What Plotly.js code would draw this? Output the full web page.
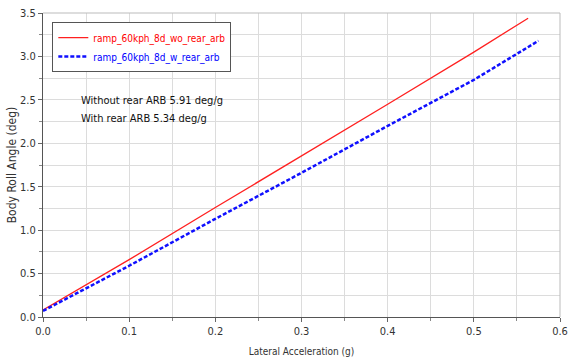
<!DOCTYPE html>
<html><head><meta charset="utf-8">
<script src="https://cdn.plot.ly/plotly-3.0.1.min.js"></script>
<style>html,body{margin:0;padding:0;background:#fff}#chart{width:571px;height:362px}</style>
</head><body><div id="chart"></div>
<script>
const xWo = [0.0, 0.1, 0.2, 0.3, 0.4, 0.5, 0.563];
const yWo = [0.08, 0.66, 1.26, 1.85, 2.45, 3.05, 3.44];
const xW = [0.0, 0.1, 0.2, 0.3, 0.4, 0.5, 0.575];
const yW = [0.07, 0.59, 1.13, 1.66, 2.20, 2.73, 3.18];
const nameWo = 'ramp_60kph_8d_wo_rear_arb';
const nameW = 'ramp_60kph_8d_w_rear_arb';
const note1 = 'Without rear ARB 5.91 deg/g';
const note2 = 'With rear ARB 5.34 deg/g';
const FONT = '"Liberation Sans Narrow", "DejaVu Sans Condensed", sans-serif';

const traces = [
  {x: xWo, y: yWo, mode: 'lines', name: '<span style="color:#ff0000">' + nameWo + '</span>',
   line: {color: '#ff2020', width: 1.3}},
  {x: xW, y: yW, mode: 'lines', name: '<span style="color:#0000ff">' + nameW + '</span>',
   line: {color: '#1010ff', width: 2.5, dash: '4px,2px'}}
];
const axisCommon = {
  showline: true, linecolor: '#555', linewidth: 1, mirror: false,
  gridcolor: '#dcdcdc', gridwidth: 1, zeroline: false,
  ticks: 'outside', ticklen: 4, tickcolor: '#666',
  tickfont: {family: FONT, size: 11, color: '#333'},
  minor: {showgrid: true, gridcolor: '#dcdcdc', ticks: 'outside', ticklen: 3, tickcolor: '#888'}
};
const layout = {
  width: 571, height: 362,
  margin: {l: 43, r: 11, t: 13, b: 45},
  paper_bgcolor: '#fff', plot_bgcolor: '#fff',
  font: {family: FONT, color: '#333'},
  showlegend: true,
  legend: {x: 0.018, y: 0.97, xanchor: 'left', yanchor: 'top', bgcolor: '#fff',
    bordercolor: '#555', borderwidth: 1, font: {family: FONT, size: 10},
    itemwidth: 30, tracegroupgap: 0},
  xaxis: Object.assign({}, axisCommon, {range: [0, 0.6], dtick: 0.1, tickformat: '.1f',
    minor: Object.assign({}, axisCommon.minor, {dtick: 0.05}),
    title: {text: 'Lateral Acceleration (g)', font: {family: FONT, size: 10, color: '#333'}, standoff: 10}}),
  yaxis: Object.assign({}, axisCommon, {range: [0, 3.5], dtick: 0.5, tickformat: '.1f',
    minor: Object.assign({}, axisCommon.minor, {dtick: 0.25}),
    title: {text: 'Body Roll Angle (deg)', font: {family: FONT, size: 12, color: '#333'}, standoff: 0}}),
  shapes: [
    {type: 'line', xref: 'paper', yref: 'paper', x0: 0, x1: 1, y0: 1, y1: 1, line: {color: '#bbb', width: 1}},
    {type: 'line', xref: 'paper', yref: 'paper', x0: 1, x1: 1, y0: 0, y1: 1, line: {color: '#bbb', width: 1}}
  ],
  annotations: [
    {xref: 'x', yref: 'y', x: 0.042, y: 2.49, xanchor: 'left', yanchor: 'middle', showarrow: false,
     text: note1, font: {family: FONT, size: 11, color: '#111'}},
    {xref: 'x', yref: 'y', x: 0.042, y: 2.29, xanchor: 'left', yanchor: 'middle', showarrow: false,
     text: note2, font: {family: FONT, size: 11, color: '#111'}}
  ]
};
Plotly.newPlot('chart', traces, layout, {displayModeBar: false, staticPlot: true});
</script></body></html>
